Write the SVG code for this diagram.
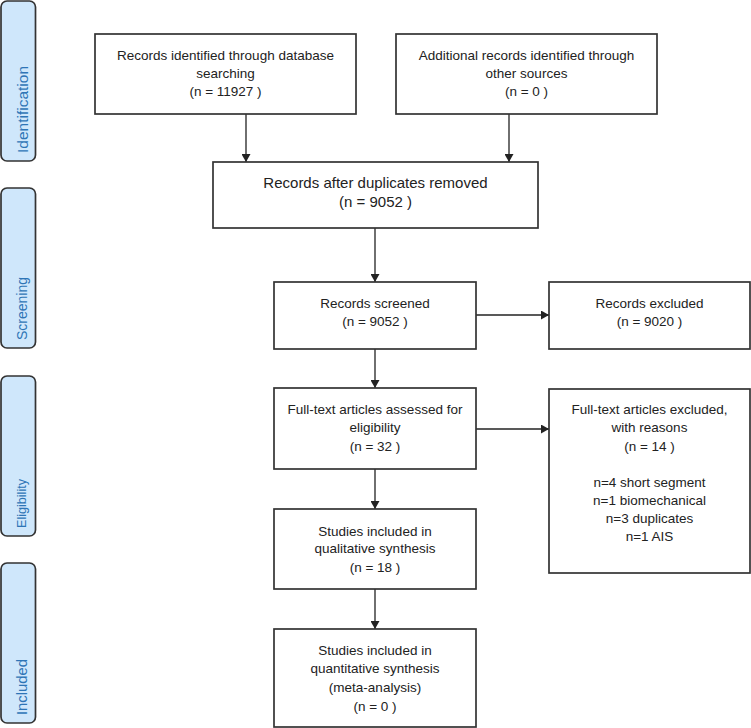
<svg xmlns="http://www.w3.org/2000/svg" width="751" height="728" viewBox="0 0 751 728">
<defs>
<style>
.box{fill:#fff;stroke:#333;stroke-width:1.7}
.bar{fill:#cfe7fb;stroke:#333;stroke-width:1.7}
.t{font-family:"Liberation Sans",Arial,sans-serif;font-size:13.5px;fill:#222;text-anchor:middle}
.tl{font-size:15px}
.side{font-family:"Liberation Sans",Arial,sans-serif;fill:#2e75b6;text-anchor:start}
.c{stroke:#222;stroke-width:1.3;fill:none;marker-end:url(#ah)}
</style>
<marker id="ah" viewBox="0 0 10 10" refX="10" refY="5" markerWidth="8" markerHeight="9" markerUnits="userSpaceOnUse" orient="auto" preserveAspectRatio="none">
<path d="M0,0 L10,5 L0,10 z" fill="#222"/>
</marker>
</defs>
<rect width="751" height="728" fill="#fff"/>

<g id="phase-identification">
<rect class="bar" x="1" y="1" width="34.5" height="160" rx="6"/>
<text class="side" font-size="15.5" transform="translate(28,153) rotate(-90)">Identification</text>
</g>
<g id="phase-screening">
<rect class="bar" x="1" y="188" width="34.5" height="160" rx="6"/>
<text class="side" font-size="14" transform="translate(27,340) rotate(-90)">Screening</text>
</g>
<g id="phase-eligibility">
<rect class="bar" x="1" y="376" width="34.5" height="160" rx="6"/>
<text class="side" font-size="12.6" transform="translate(26,528) rotate(-90)">Eligibility</text>
</g>
<g id="phase-included">
<rect class="bar" x="1" y="563" width="34.5" height="160" rx="6"/>
<text class="side" font-size="14.8" transform="translate(27,715) rotate(-90)">Included</text>
</g>

<g id="connectors">
<line class="c" x1="246" y1="114" x2="246" y2="162"/>
<line class="c" x1="509" y1="114" x2="509" y2="162"/>
<line class="c" x1="375" y1="228" x2="375" y2="282"/>
<line class="c" x1="476" y1="315" x2="549" y2="315"/>
<line class="c" x1="375" y1="349" x2="375" y2="388"/>
<line class="c" x1="476" y1="429" x2="549" y2="429"/>
<line class="c" x1="375" y1="469" x2="375" y2="509"/>
<line class="c" x1="375" y1="589" x2="375" y2="629"/>
</g>

<g id="n-database">
<rect class="box" x="95" y="34" width="261" height="80"/>
<text class="t" x="225.5" y="60">Records identified through database</text>
<text class="t" x="225.5" y="78">searching</text>
<text class="t" x="225.5" y="96">(n = 11927 )</text>
</g>
<g id="n-other">
<rect class="box" x="396" y="34" width="261" height="80"/>
<text class="t" x="526.5" y="60">Additional records identified through</text>
<text class="t" x="526.5" y="78">other sources</text>
<text class="t" x="526.5" y="96">(n = 0 )</text>
</g>
<g id="n-dedup">
<rect class="box" x="213" y="162" width="325" height="66"/>
<text class="t tl" x="375.5" y="188">Records after duplicates removed</text>
<text class="t tl" x="375.5" y="207">(n = 9052 )</text>
</g>
<g id="n-screened">
<rect class="box" x="274" y="282" width="202" height="67"/>
<text class="t" x="375" y="308">Records screened</text>
<text class="t" x="375" y="326">(n = 9052 )</text>
</g>
<g id="n-excluded">
<rect class="box" x="549" y="282" width="201" height="67"/>
<text class="t" x="649.5" y="308">Records excluded</text>
<text class="t" x="649.5" y="326">(n = 9020 )</text>
</g>
<g id="n-fulltext">
<rect class="box" x="274" y="388" width="202" height="81"/>
<text class="t" x="375" y="414">Full-text articles assessed for</text>
<text class="t" x="375" y="432">eligibility</text>
<text class="t" x="375" y="451">(n = 32 )</text>
</g>
<g id="n-ft-excluded">
<rect class="box" x="549" y="389" width="201" height="184"/>
<text class="t" x="649.5" y="414">Full-text articles excluded,</text>
<text class="t" x="649.5" y="432">with reasons</text>
<text class="t" x="649.5" y="451">(n = 14 )</text>
<text class="t" x="649.5" y="487">n=4 short segment</text>
<text class="t" x="649.5" y="505">n=1 biomechanical</text>
<text class="t" x="649.5" y="523">n=3 duplicates</text>
<text class="t" x="649.5" y="541">n=1 AIS</text>
</g>
<g id="n-qualitative">
<rect class="box" x="274" y="509" width="202" height="80"/>
<text class="t" x="375" y="536">Studies included in</text>
<text class="t" x="375" y="553">qualitative synthesis</text>
<text class="t" x="375" y="572">(n = 18 )</text>
</g>
<g id="n-quantitative">
<rect class="box" x="274" y="629" width="202" height="98"/>
<text class="t" x="375" y="655">Studies included in</text>
<text class="t" x="375" y="673">quantitative synthesis</text>
<text class="t" x="375" y="692">(meta-analysis)</text>
<text class="t" x="375" y="711">(n = 0 )</text>
</g>
</svg>
